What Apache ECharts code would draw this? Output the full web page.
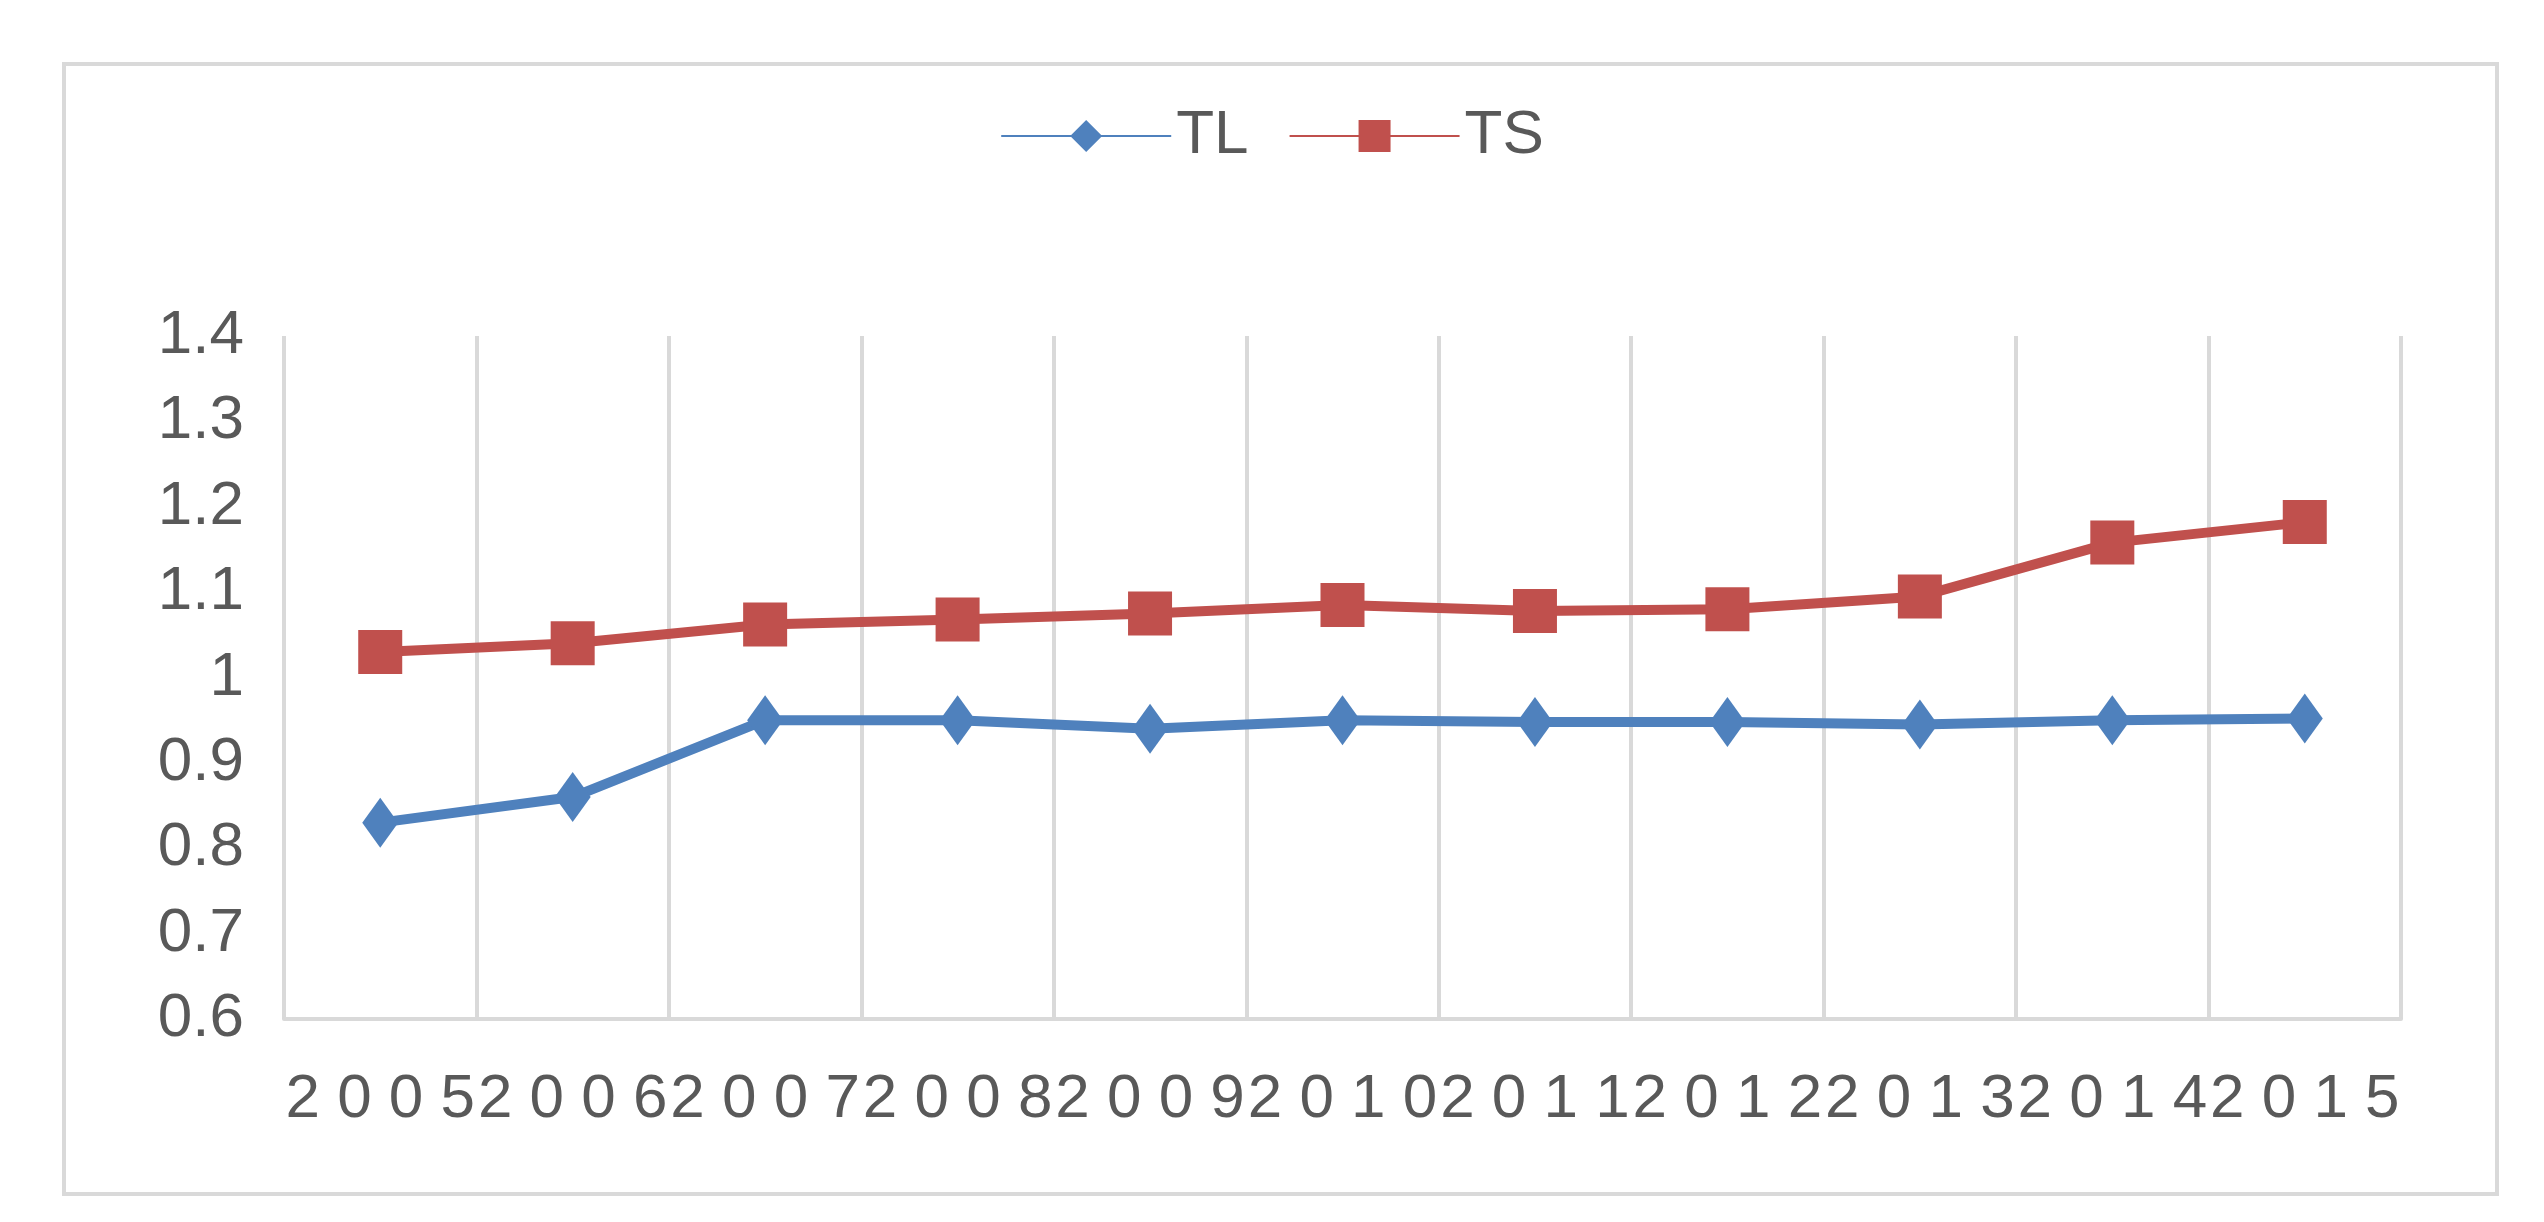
<!DOCTYPE html>
<html lang="en">
<head>
    <meta charset="UTF-8">
    <title>TL TS</title>
    <script src="https://cdn.jsdelivr.net/npm/echarts@6/dist/echarts.min.js"></script>
    <style>
        body{margin:0;background:#fff;}
        #frame{position:absolute;left:62px;top:62px;width:2429px;height:1126px;border:4px solid #d9d9d9;}
    </style>
</head>
<body>
    <div id="frame"></div>
    <div id="main" style="position:absolute;left:0;top:0;width:2544px;height:1222px;"></div>
    <script type="text/javascript">
        var years = ['2005','2006','2007','2008','2009','2010','2011','2012','2013','2014','2015'];
        var tl = [0.83, 0.86, 0.95, 0.95, 0.94, 0.95, 0.948, 0.948, 0.945, 0.95, 0.952];
        var ts = [1.03, 1.04, 1.062, 1.068, 1.075, 1.085, 1.078, 1.08, 1.095, 1.158, 1.182];

        var myChart = echarts.init(document.getElementById('main'));
        var option = {
            textStyle: {fontFamily: 'Liberation Sans'},
            legend: {
                top: 100,
                left: 'center',
                itemWidth: 170,
                itemHeight: 40,
                itemGap: 40,
                textStyle: {fontSize: 62, color: '#595959'},
                data: ['TL', 'TS']
            },
            grid: {left: 284, right: 143, top: 336, bottom: 203},
            xAxis: {
                type: 'category',
                data: years,
                boundaryGap: true,
                axisLine: {lineStyle: {color: '#d9d9d9', width: 4}},
                axisTick: {show: false},
                splitLine: {show: true, interval: 0, lineStyle: {color: '#d9d9d9', width: 4}},
                axisLabel: {fontSize: 62, color: '#595959', margin: 50, interval: 0,
                    formatter: function (v) { return v.split('').join(' '); }}
            },
            yAxis: {
                type: 'value',
                min: 0.6, max: 1.4, interval: 0.1,
                axisLine: {show: false},
                splitLine: {show: false},
                axisLabel: {fontSize: 62, color: '#595959', margin: 40,
                    formatter: function (v) { return +v.toFixed(1) + ''; }}
            },
            series: [{
                name: 'TL', type: 'line', data: tl,
                symbol: 'diamond', symbolSize: [36, 50],
                lineStyle: {width: 10, color: '#4F81BD'},
                itemStyle: {color: '#4F81BD'}
            }, {
                name: 'TS', type: 'line', data: ts,
                symbol: 'rect', symbolSize: 44,
                lineStyle: {width: 10, color: '#C0504D'},
                itemStyle: {color: '#C0504D'}
            }]
        };
        myChart.setOption(option);
    </script>
</body>
</html>
